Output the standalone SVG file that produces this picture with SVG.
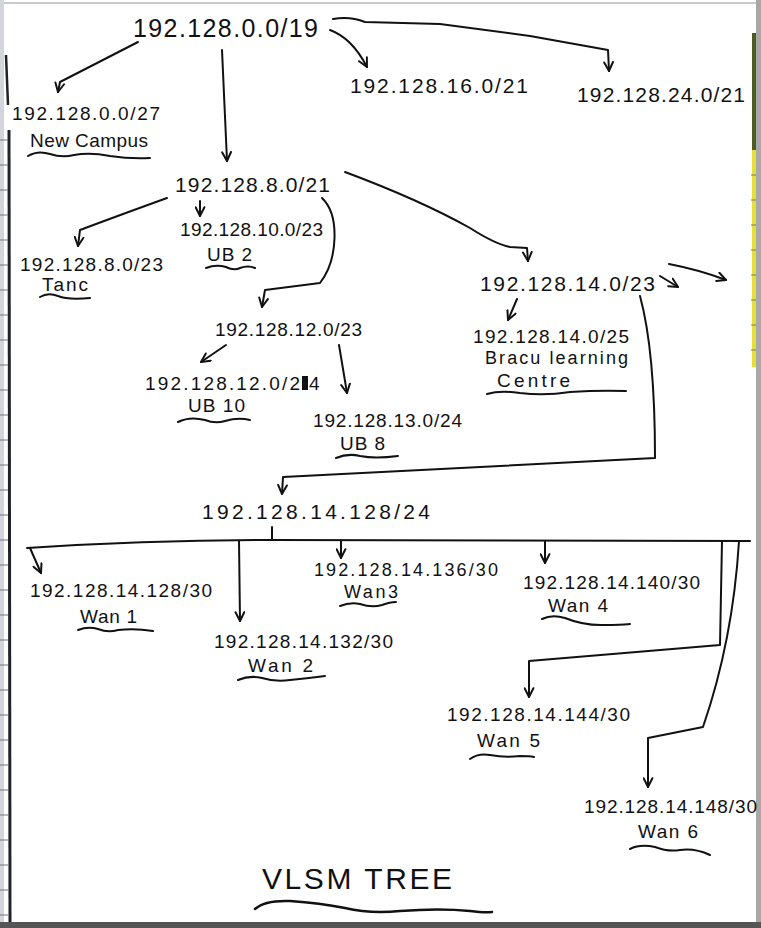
<svg xmlns="http://www.w3.org/2000/svg" width="761" height="928" viewBox="0 0 761 928">
<style>
text{font-family:"Liberation Sans","DejaVu Sans",sans-serif;fill:#111;font-size:19px}
.big{font-size:25px}
.mid{font-size:21px}
.sm{font-size:18px}
.ttl{font-size:30px}
.ln{fill:none;stroke:#111;stroke-width:2;stroke-linecap:round;stroke-linejoin:round}
.ul{fill:none;stroke:#111;stroke-width:2;stroke-linecap:round}
</style>
<defs>
<marker id="ah" viewBox="0 0 10 10" refX="9" refY="5" markerWidth="11" markerHeight="11" markerUnits="userSpaceOnUse" orient="auto">
<path d="M1,1 L9,5 L1,9" fill="none" stroke="#111" stroke-width="1.8" stroke-linecap="round" stroke-linejoin="round"/>
</marker>
</defs>
<rect width="761" height="928" fill="#ffffff"/>
<g id="page">
<rect x="0" y="2" width="757" height="2" fill="#c9c9c9"/>
<rect x="0" y="0" width="4" height="928" fill="#d4d4dc"/>
<path d="M6,55 L8,105" stroke="#222" stroke-width="2.5" fill="none"/>
<path d="M9,130 L10,922" stroke="#22222c" stroke-width="3" fill="none"/>
<path d="M0,140 h8 M0,165 h8 M0,190 h8 M0,215 h8 M0,240 h8 M0,265 h8 M0,290 h8 M0,315 h8 M0,340 h8 M0,365 h8 M0,390 h8 M0,415 h8 M0,440 h8 M0,465 h8 M0,490 h8 M0,515 h8 M0,540 h8 M0,565 h8 M0,590 h8 M0,615 h8 M0,640 h8 M0,665 h8 M0,690 h8 M0,715 h8 M0,740 h8 M0,765 h8 M0,790 h8 M0,815 h8 M0,840 h8 M0,865 h8 M0,890 h8 M0,915 h8" stroke="#777" stroke-width="1"/>
<rect x="752" y="33" width="5" height="117" fill="#4d5a22"/>
<rect x="752" y="150" width="5" height="217" fill="#e6dd3c"/>
<rect x="756" y="0" width="5" height="928" fill="#a8a8a8"/>
<path d="M751,175 h5 M751,200 h5 M751,225 h5 M751,250 h5 M751,275 h5 M751,300 h5 M751,325 h5 M751,350 h5" stroke="#777" stroke-width="1"/>
<rect x="0" y="922" width="761" height="6" fill="#555"/>
</g>
<g id="connectors">
<path class="ln" d="M138,42 L60,82 L58,92" marker-end="url(#ah)"/>
<path class="ln" d="M222,50 L227,161" marker-end="url(#ah)"/>
<path class="ln" d="M330,30 Q352,38 367,67" marker-end="url(#ah)"/>
<path class="ln" d="M333,19 Q350,16 365,22 L440,24 L530,36 L608,50 L609,71" marker-end="url(#ah)"/>
<path class="ln" d="M167,198 Q120,215 80,230 L78,246" marker-end="url(#ah)"/>
<path class="ln" d="M200,201 L200,216" marker-end="url(#ah)"/>
<path class="ln" d="M322,198 C340,215 338,260 320,283 L265,290 L262,307" marker-end="url(#ah)"/>
<path class="ln" d="M345,172 Q420,200 470,228 Q495,244 510,247 L527,248 L528,261" marker-end="url(#ah)"/>
<path class="ln" d="M660,276 L678,287" marker-end="url(#ah)"/>
<path class="ln" d="M669,264 Q700,270 726,280" marker-end="url(#ah)"/>
<path class="ln" d="M517,299 L508,320" marker-end="url(#ah)"/>
<path class="ln" d="M640,296 C652,340 655,400 655,458 L283,477 L282,494" marker-end="url(#ah)"/>
<path class="ln" d="M226,345 L201,362" marker-end="url(#ah)"/>
<path class="ln" d="M339,345 L347,393" marker-end="url(#ah)"/>
<path class="ln" d="M272,527 L272,540"/>
<path class="ln" d="M27,548 Q150,540 272,540 L750,541"/>
<path class="ln" d="M30,548 L41,573" marker-end="url(#ah)"/>
<path class="ln" d="M239,541 L240,621" marker-end="url(#ah)"/>
<path class="ln" d="M341,541 L341,558" marker-end="url(#ah)"/>
<path class="ln" d="M545,541 L545,563" marker-end="url(#ah)"/>
<path class="ln" d="M722,541 L720,645 L529,661 L529,697" marker-end="url(#ah)"/>
<path class="ln" d="M739,541 Q733,640 703,727 L648,738 L648,787" marker-end="url(#ah)"/>
</g>
<g id="n-root"><text class="big" x="133" y="37" textLength="185" lengthAdjust="spacing">192.128.0.0/19</text></g>
<g id="n-newcampus">
<text x="12" y="120" textLength="148" lengthAdjust="spacing">192.128.0.0/27</text>
<text x="30" y="147" textLength="118" lengthAdjust="spacing">New Campus</text>
<path class="ul" d="M28,156 Q38,150 50,154 Q62,158 74,155 Q90,152 110,156 Q130,159 150,158"/>
</g>
<g id="n-16"><text class="mid" x="350" y="93" textLength="178" lengthAdjust="spacing">192.128.16.0/21</text></g>
<g id="n-24"><text class="mid" x="577" y="102" textLength="168" lengthAdjust="spacing">192.128.24.0/21</text></g>
<g id="n-8-21"><text class="mid" x="175" y="192" textLength="155" lengthAdjust="spacing">192.128.8.0/21</text></g>
<g id="n-ub2">
<text x="180" y="236" textLength="143" lengthAdjust="spacing">192.128.10.0/23</text>
<text x="207" y="261" textLength="45" lengthAdjust="spacing">UB 2</text>
<path class="ul" d="M206,268 Q216,264 226,267 Q234,271 240,268 Q248,265 255,268"/>
</g>
<g id="n-tanc">
<text x="20" y="271" textLength="143" lengthAdjust="spacing">192.128.8.0/23</text>
<text x="42" y="291" textLength="46" lengthAdjust="spacing">Tanc</text>
<path class="ul" d="M40,297 Q48,292 58,296 Q68,300 90,298"/>
</g>
<g id="n-14-23"><text x="480" y="291" textLength="175" lengthAdjust="spacing" class="mid">192.128.14.0/23</text></g>
<g id="n-bracu">
<text x="473" y="343" textLength="156" lengthAdjust="spacing">192.128.14.0/25</text>
<text class="sm" x="485" y="364" textLength="143" lengthAdjust="spacing">Bracu learning</text>
<text x="497" y="387" textLength="73" lengthAdjust="spacing">Centre</text>
<path class="ul" d="M487,394 Q500,390 520,393 Q545,396 570,392 Q600,390 626,391"/>
</g>
<g id="n-12-23"><text x="215" y="336" textLength="147" lengthAdjust="spacing">192.128.12.0/23</text></g>
<g id="n-ub10">
<text x="145" y="390" textLength="155" lengthAdjust="spacing">192.128.12.0/2</text>
<rect x="302" y="376" width="6" height="14" fill="#111"/>
<text x="309" y="390">4</text>
<text x="188" y="412" textLength="57" lengthAdjust="spacing">UB 10</text>
<path class="ul" d="M178,422 Q190,416 205,420 Q215,424 225,421 Q238,417 250,420"/>
</g>
<g id="n-ub8">
<text x="313" y="427" textLength="149" lengthAdjust="spacing">192.128.13.0/24</text>
<text x="340" y="450" textLength="45" lengthAdjust="spacing">UB 8</text>
<path class="ul" d="M336,458 Q348,453 360,456 Q375,459 398,456"/>
</g>
<g id="n-14-128-24"><text class="mid" x="202" y="519" textLength="228" lengthAdjust="spacing">192.128.14.128/24</text></g>
<g id="n-wan1">
<text x="30" y="597" textLength="182" lengthAdjust="spacing">192.128.14.128/30</text>
<text x="80" y="623" textLength="57" lengthAdjust="spacing">Wan 1</text>
<path class="ul" d="M78,630 Q88,626 98,629 Q108,633 118,630 Q135,628 153,631"/>
</g>
<g id="n-wan2">
<text x="214" y="648" textLength="179" lengthAdjust="spacing">192.128.14.132/30</text>
<text x="248" y="672" textLength="65" lengthAdjust="spacing">Wan 2</text>
<path class="ul" d="M238,680 Q250,675 262,678 Q275,682 290,680 Q310,678 325,676"/>
</g>
<g id="n-wan3">
<text class="sm" x="314" y="576" textLength="184" lengthAdjust="spacing">192.128.14.136/30</text>
<text class="sm" x="344" y="598" textLength="54" lengthAdjust="spacing">Wan3</text>
<path class="ul" d="M340,606 Q350,602 360,604 Q372,608 382,605 Q390,602 396,602"/>
</g>
<g id="n-wan4">
<text x="523" y="589" textLength="177" lengthAdjust="spacing">192.128.14.140/30</text>
<text x="548" y="612" textLength="60" lengthAdjust="spacing">Wan 4</text>
<path class="ul" d="M542,619 Q552,614 565,618 Q585,626 605,625 Q620,625 630,624"/>
</g>
<g id="n-wan5">
<text x="447" y="721" textLength="183" lengthAdjust="spacing">192.128.14.144/30</text>
<text x="477" y="747" textLength="63" lengthAdjust="spacing">Wan 5</text>
<path class="ul" d="M470,759 Q478,753 490,755 Q505,758 520,756 Q530,756 534,757"/>
</g>
<g id="n-wan6">
<text x="584" y="813" textLength="173" lengthAdjust="spacing">192.128.14.148/30</text>
<text x="638" y="838" textLength="60" lengthAdjust="spacing">Wan 6</text>
<path class="ul" d="M630,849 Q640,844 655,847 Q668,852 680,850 Q695,848 710,855"/>
</g>
<g id="title">
<text class="ttl" x="262" y="889" textLength="190" lengthAdjust="spacing">VLSM TREE</text>
<path class="ul" d="M255,909 Q265,900 290,901 Q320,903 345,908 Q370,914 400,911 Q440,908 470,911 Q485,913 492,912" style="stroke-width:2.5"/>
</g>
</svg>
